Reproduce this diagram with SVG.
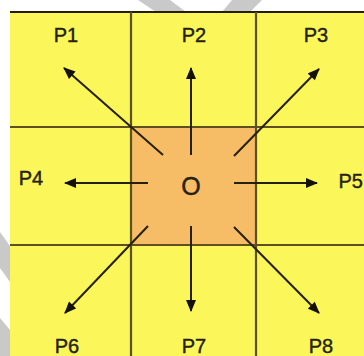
<svg xmlns="http://www.w3.org/2000/svg" width="364" height="356" viewBox="0 0 364 356">
<defs>
<style>
.cell{fill:#fbf65a}
.grid{stroke:#5e5020;stroke-width:2.2;fill:none}
.arr{stroke:#24200c;stroke-width:2;fill:none;marker-end:url(#ah)}
.lbl{font-family:"Liberation Sans",Arial,sans-serif;font-size:20px;fill:#24210e;stroke:#24210e;stroke-width:0.4;text-anchor:middle}
.wm{fill:#c9c9c9}
</style>
<marker id="ah" viewBox="0 0 12 10" refX="11" refY="5" markerWidth="13" markerHeight="10" markerUnits="userSpaceOnUse" orient="auto">
<path d="M0,0 L12,5 L0,10 z" fill="#14110a"/>
</marker>
</defs>
<rect x="0" y="0" width="364" height="356" fill="#ffffff"/>
<g id="watermark">
<polygon class="wm" points="138,0 170,0 186,12 156,12"/>
<polygon class="wm" points="232,0 262,0 250,12 222,12"/>
<polygon class="wm" points="0,232 10,246 10,282 0,268"/>
<polygon class="wm" points="0,318 10,330 10,356 0,356"/>
</g>
<g id="background">
<rect class="cell" x="10" y="12" width="354" height="344"/>
<rect x="131" y="127" width="125" height="118" fill="#f6bc66"/>
</g>
<g id="grid">
<line x1="10" y1="12" x2="364" y2="12" stroke="#221e0e" stroke-width="2.2"/>
<line class="grid" x1="131" y1="12" x2="131" y2="356"/>
<line class="grid" x1="256" y1="12" x2="256" y2="356"/>
<line class="grid" x1="10" y1="127" x2="364" y2="127"/>
<line class="grid" x1="10" y1="245" x2="364" y2="245"/>
</g>
<g id="connectors">
<line class="arr" x1="163" y1="155" x2="64" y2="68"/>
<line class="arr" x1="191" y1="155" x2="191" y2="68"/>
<line class="arr" x1="234" y1="156" x2="319" y2="69"/>
<line class="arr" x1="148" y1="183" x2="65" y2="183"/>
<line class="arr" x1="234" y1="183" x2="317" y2="183"/>
<line class="arr" x1="148" y1="226" x2="65" y2="313"/>
<line class="arr" x1="191" y1="226" x2="191" y2="311"/>
<line class="arr" x1="234" y1="227" x2="319" y2="313"/>
</g>
<g id="O"><text class="lbl" x="191" y="195" style="font-size:25px">O</text></g>
<g id="P1"><text class="lbl" x="66" y="42">P1</text></g>
<g id="P2"><text class="lbl" x="194" y="42">P2</text></g>
<g id="P3"><text class="lbl" x="316" y="42">P3</text></g>
<g id="P4"><text class="lbl" x="31" y="185">P4</text></g>
<g id="P5"><text class="lbl" x="363" y="188" style="text-anchor:end">P5</text></g>
<g id="P6"><text class="lbl" x="67" y="353">P6</text></g>
<g id="P7"><text class="lbl" x="194" y="353">P7</text></g>
<g id="P8"><text class="lbl" x="321" y="353">P8</text></g>
</svg>
